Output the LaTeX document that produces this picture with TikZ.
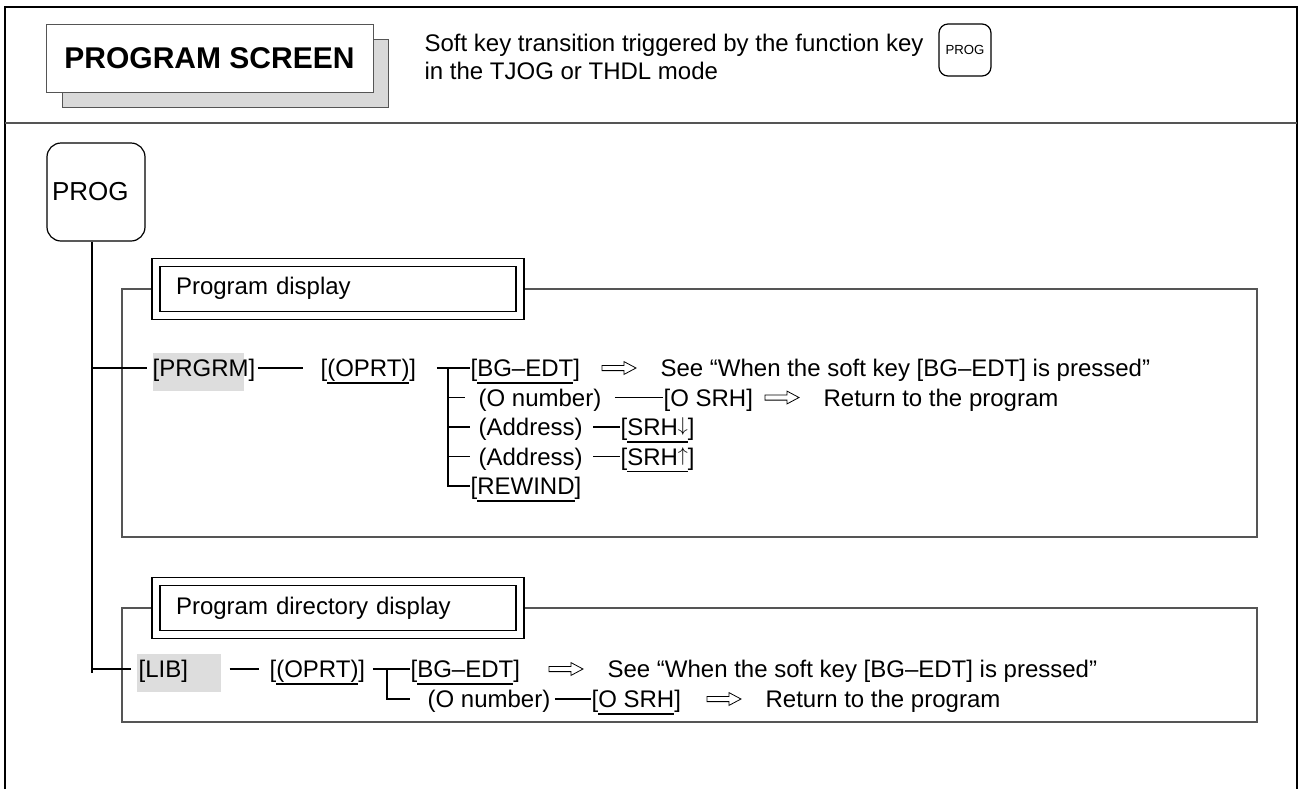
\documentclass[tikz,border=0pt]{standalone}
\usepackage{fontspec}
\setmainfont{Liberation Sans}
\usetikzlibrary{positioning, calc}
\definecolor{keygray}{HTML}{DDDDDD}
\definecolor{shadowgray}{HTML}{D9D9D9}
\definecolor{rulegray}{HTML}{555555}
\newcommand{\keyul}[1]{\setbox0\hbox{#1}\rlap{\vrule height -2.7pt depth 3.55pt width \wd0}\box0}
\newcommand{\srharrow}[1]{\raisebox{2pt}{\fontsize{10}{12}\selectfont$#1$}}
\tikzset{
    lbl/.style={inner sep=0pt, text height=8.6pt, text depth=0pt, anchor=west, font=\fontsize{12}{14}\selectfont},
    titlebox/.style={rectangle, draw=rulegray, fill=white, line width=0.5pt, font=\fontsize{15}{18}\selectfont\bfseries},
    fkeybox/.style={rectangle, draw=black, rounded corners=4.5pt, line width=0.6pt, inner sep=0pt, font=\fontsize{6.6}{7}\selectfont},
    bigkey/.style={rectangle, draw=black, rounded corners=7pt, line width=0.6pt, minimum width=49pt, minimum height=49pt, text width=44pt, inner xsep=2.5pt, align=left, font=\fontsize{13}{15}\selectfont},
    dispbox/.style={rectangle, draw=black, double, double distance=3.4pt, fill=white, line width=0.6pt, minimum height=26.5pt, text width=162pt, inner xsep=10pt, align=left, font=\fontsize{12}{14}\selectfont},
    framebox/.style={draw=rulegray, line width=0.6pt},
    hollowarrow/.style={line width=0.4pt, to path={let \p1=(\tikztostart), \p2=(\tikztotarget) in
        (\x2-29pt,\y1+1.3pt) -- (\x2-18pt,\y1+1.3pt) -- (\x2-18pt,\y1+3.2pt) -- (\x2-12pt,\y1)
        -- (\x2-18pt,\y1-3.2pt) -- (\x2-18pt,\y1-1.3pt) -- (\x2-29pt,\y1-1.3pt) -- cycle}}
}

\begin{document}
\begin{tikzpicture}[x=0.5pt, y=-0.5pt, line width=0.6pt]
    \useasboundingbox (0,0) rectangle (1302,789);

    % outer frame and header rule
    \draw[line width=1pt] (5,789) -- (5,7) -- (1297,7) -- (1297,789);
    \draw[line width=0.8pt, rulegray] (5,123) -- (1297,123);

    % title card
    \fill[shadowgray, draw=rulegray, line width=0.5pt] (62,39) rectangle (388,107);
    \node[titlebox, minimum width=163.5pt, minimum height=34pt] (title) at (209.5,58) {PROGRAM SCREEN};
    \node[lbl] (hd1) at (424,43) {Soft key transition triggered by the function key};
    \node[lbl, below=4.9pt of hd1.south west, anchor=north west] (hd2) {in the TJOG or THDL mode};
    \node[fkeybox, minimum width=26pt, minimum height=26pt] (fkey) at (965,50) {PROG};

    % function key and trunk
    \node[bigkey] (bigkey) at (96,192) {PROG};

    % display frames
    \draw[framebox] (122,289) rectangle (1257,537);
    \draw[framebox] (122,608) rectangle (1257,722);
    \node[dispbox] (disp1) at (338,288.75) {Program display};
    \node[dispbox] (disp2) at (338,608.25) {Program directory display};

    % highlighted soft keys
    \fill[keygray] (153,353) rectangle (244,391);
    \fill[keygray] (137,654) rectangle (221,692);

    % program display rows
    \node[lbl] (prgrm) at (152,368) {[PRGRM]};
    \node[lbl] (oprt1) at (320,368) {[\keyul{(OPRT)}]};
    \node[lbl] (bg1) at (470,368) {[\keyul{BG–EDT}]};
    \node[lbl] (see1) at (660,368) {See “When the soft key [BG–EDT] is pressed”};
    \node[lbl] (onum1) at (478,397.5) {(O number)};
    \node[lbl] (osrh1) at (663,397.5) {[O SRH]};
    \node[lbl] (ret1) at (823,397.5) {Return to the program};
    \node[lbl] (adr1) at (478,427) {(Address)};
    \node[lbl] (srhd) at (620,427) {[\keyul{SRH\srharrow{\downarrow}}]};
    \node[lbl] (adr2) at (478,456.5) {(Address)};
    \node[lbl] (srhu) at (620,456.5) {[\keyul{SRH\srharrow{\uparrow}}]};
    \node[lbl] (rew) at (470,486) {[\keyul{REWIND}]};

    % program directory rows
    \node[lbl] (lib) at (138,669) {[LIB]};
    \node[lbl] (oprt2) at (269,669) {[\keyul{(OPRT)}]};
    \node[lbl] (bg2) at (410,669) {[\keyul{BG–EDT}]};
    \node[lbl] (see2) at (607,669) {See “When the soft key [BG–EDT] is pressed”};
    \node[lbl] (onum2) at (427,699) {(O number)};
    \node[lbl] (osrh2) at (591,699) {[\keyul{O SRH}]};
    \node[lbl] (ret2) at (765,699) {Return to the program};

    % connectors
    \coordinate (tk) at ([xshift=-2pt]bigkey.south);
    \draw (tk) -- ([yshift=-2pt]tk |- lib.west);
    \draw[shorten >=2.5pt] (tk |- prgrm.west) -- (prgrm.west);
    \draw[shorten >=3.5pt] (tk |- lib.west) -- (lib.west);

    \coordinate (br1) at (448,368);
    \draw[shorten <=1pt, shorten >=8.5pt] (prgrm.east) -- (oprt1.west);
    \draw[shorten <=10pt] (oprt1.east) -- (bg1.west);
    \draw (br1) |- (rew.west);
    \draw[shorten >=6.5pt] (br1 |- onum1.west) -- (onum1.west);
    \draw[shorten >=4pt] (br1 |- adr1.west) -- (adr1.west);
    \draw[shorten >=4pt] (br1 |- adr2.west) -- (adr2.west);
    \draw[shorten <=6.5pt] (onum1.east) -- (osrh1.west);
    \draw[shorten <=5pt] (adr1.east) -- (srhd.west);
    \draw[shorten <=5pt] (adr2.east) -- (srhu.west);
    \draw[hollowarrow] (bg1.east) to (see1.west);
    \draw[hollowarrow] (osrh1.east) to (ret1.west);

    \coordinate (br2) at (387,669);
    \draw[shorten <=20.5pt, shorten >=5pt] (lib.east) -- (oprt2.west);
    \draw[shorten <=3.5pt] (oprt2.east) -- (bg2.west);
    \draw[shorten >=8.5pt] (br2) |- (onum2.west);
    \draw[shorten <=2pt] (onum2.east) -- (osrh2.west);
    \draw[hollowarrow] (bg2.east) to (see2.west);
    \draw[hollowarrow] (osrh2.east) to (ret2.west);
\end{tikzpicture}
\end{document}
